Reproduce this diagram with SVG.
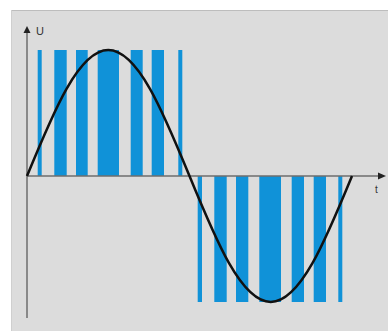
<svg xmlns="http://www.w3.org/2000/svg" width="388" height="331" viewBox="0 0 388 331">
<style>
.bar{fill:#1092d8}
.axis{stroke:#6e6e6e;stroke-width:1.5;fill:none}
.head{fill:#222}
.lbl{font-family:"Liberation Sans",Arial,sans-serif;fill:#333}
</style>
<rect x="0" y="0" width="388" height="331" fill="#ffffff"/>
<rect x="11" y="10" width="377" height="321" fill="#dcdcdc"/>
<line x1="11" y1="10.5" x2="388" y2="10.5" stroke="#bdbdbd" stroke-width="1"/>
<line x1="11.5" y1="10" x2="11.5" y2="331" stroke="#cfcfcf" stroke-width="1"/>
<g id="bars-positive">
<rect class="bar" x="37.7" y="50" width="4" height="126"/>
<rect class="bar" x="54.3" y="50" width="12.4" height="126"/>
<rect class="bar" x="76" y="50" width="11.7" height="126"/>
<rect class="bar" x="97.7" y="50" width="21.3" height="126"/>
<rect class="bar" x="130.7" y="50" width="12" height="126"/>
<rect class="bar" x="151.7" y="50" width="12.3" height="126"/>
<rect class="bar" x="178.3" y="50" width="4" height="126"/>
</g>
<g id="bars-negative">
<rect class="bar" x="197.7" y="176" width="4.3" height="126"/>
<rect class="bar" x="214.3" y="176" width="12.4" height="126"/>
<rect class="bar" x="236" y="176" width="12.3" height="126"/>
<rect class="bar" x="259.3" y="176" width="21.7" height="126"/>
<rect class="bar" x="291.7" y="176" width="12.3" height="126"/>
<rect class="bar" x="313.7" y="176" width="12.3" height="126"/>
<rect class="bar" x="338.3" y="176" width="4" height="126"/>
</g>
<g id="axes">
<line class="axis" x1="27" y1="32" x2="27" y2="318"/>
<polygon class="head" points="27,26 23.5,33 30.5,33"/>
<line class="axis" x1="27" y1="176" x2="379" y2="176"/>
<polygon class="head" points="386,176 378,172.5 378,179.5"/>
<text class="lbl" x="36" y="35" font-size="11">U</text>
<text class="lbl" x="375" y="193" font-size="10">t</text>
</g>
<g id="sine">
<path d="M27,176 C53.5,111.45 78.84,50 108.25,50 C137.66,50 163,111.45 189.5,176 C216,240.55 241.34,302 270.75,302 C300.16,302 325.5,240.55 352,176" fill="none" stroke="#111" stroke-width="2.5"/>
</g>
</svg>
